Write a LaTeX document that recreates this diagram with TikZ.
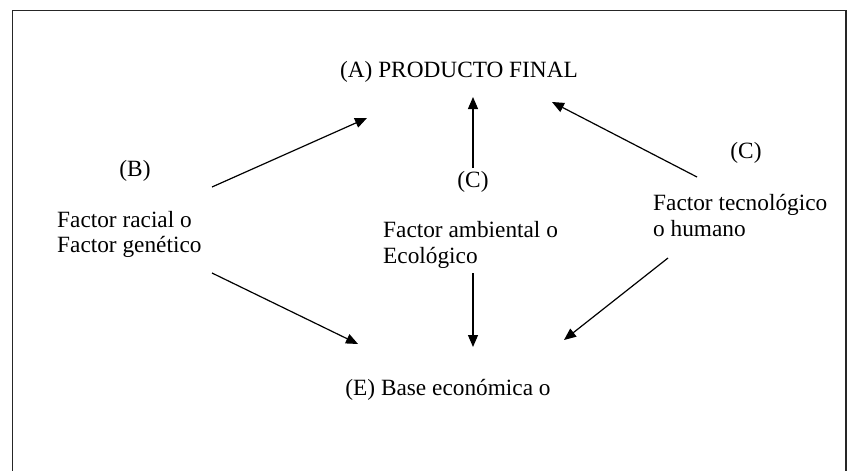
\documentclass[tikz,border=0pt]{standalone}
\usepackage{fontspec}
\setmainfont{Liberation Serif}
\usetikzlibrary{arrows.meta}
\begin{document}
\begin{tikzpicture}[x=1pt,y=-1pt,
  lbl/.style={inner sep=0pt, font=\fontsize{23.3}{26}\selectfont, text=black},
  arr/.style={line width=1.2pt, -{Triangle[length=12pt,width=10pt]}},
  frame/.style={line width=1.6pt, black!85}]
\useasboundingbox (0,0) rectangle (847,471);
\draw[frame] (12.5,471) -- (12.5,10.5) -- (846,10.5) -- (846,471);

\node[lbl, anchor=base] (A) at (459,77) {(A) PRODUCTO FINAL};
\node[lbl, anchor=base] (B) at (135,176) {(B)};
\node[lbl, anchor=base west] (B1) at (57,227) {Factor racial o};
\node[lbl, anchor=base west] (B2) at (57,252) {Factor genético};
\node[lbl, anchor=base] (C) at (473,187) {(C)};
\node[lbl, anchor=base west] (C1) at (383,237) {Factor ambiental o};
\node[lbl, anchor=base west] (C2) at (383,263) {Ecológico};
\node[lbl, anchor=base] (D) at (746,158) {(C)};
\node[lbl, anchor=base west] (D1) at (653,210) {Factor tecnológico};
\node[lbl, anchor=base west] (D2) at (653,236) {o humano};
\node[lbl, anchor=base] (E) at (448,395) {(E) Base económica o};

\coordinate (bs1) at (212,187);
\coordinate (bt1) at (367,118);
\coordinate (cs1) at (473,168);
\coordinate (ct1) at (473,97);
\coordinate (ds1) at (697,177);
\coordinate (dt1) at (552,102);
\coordinate (bs2) at (212,273);
\coordinate (bt2) at (358,344);
\coordinate (cs2) at (473,273);
\coordinate (ct2) at (473,347);
\coordinate (ds2) at (668,258);
\coordinate (dt2) at (564,340);

\draw[arr] (bs1) -- (bt1);
\draw[arr] (cs1) -- (ct1);
\draw[arr] (ds1) -- (dt1);
\draw[arr] (bs2) -- (bt2);
\draw[arr] (cs2) -- (ct2);
\draw[arr] (ds2) -- (dt2);
\end{tikzpicture}
\end{document}
